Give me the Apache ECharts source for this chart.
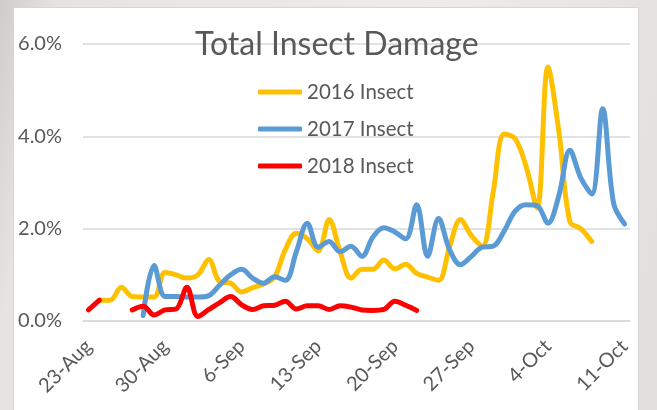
<!DOCTYPE html>
<html>
<head>
<meta charset="utf-8">
<script src="https://cdn.jsdelivr.net/npm/echarts@6/dist/echarts.min.js"></script>
<style>
  html, body { margin: 0; padding: 0; }
  body { width: 657px; height: 410px; overflow: hidden;
         background: linear-gradient(100deg, #cfcdcb 0%, #e6e4e2 8%, #eeeceb 60%, #e2e0de 100%); position: relative; }
  #card { position: absolute; left: 13px; top: 7px; width: 626px; height: 410px; background: #fff;
          border: 1px solid #d6d6d6; box-sizing: border-box; }
  #echarts { position: absolute; left: 0; top: 0; width: 657px; height: 410px; }
</style>
</head>
<body>
<div id="card"></div>
<div id="echarts"></div>
<script>
// 日期 (23-Aug .. 11-Oct)
var dates = ['23-Aug','24-Aug','25-Aug','26-Aug','27-Aug','28-Aug','29-Aug',
  '30-Aug','31-Aug','1-Sep','2-Sep','3-Sep','4-Sep','5-Sep',
  '6-Sep','7-Sep','8-Sep','9-Sep','10-Sep','11-Sep','12-Sep',
  '13-Sep','14-Sep','15-Sep','16-Sep','17-Sep','18-Sep','19-Sep',
  '20-Sep','21-Sep','22-Sep','23-Sep','24-Sep','25-Sep','26-Sep',
  '27-Sep','28-Sep','29-Sep','30-Sep','1-Oct','2-Oct','3-Oct',
  '4-Oct','5-Oct','6-Oct','7-Oct','8-Oct','9-Oct','10-Oct','11-Oct'];

// percent values, null = no data
var insect2016 = [null,0.45,0.45,0.73,0.53,0.52,0.52,
  1.05,1.0,0.93,1.0,1.33,0.85,0.82,
  0.63,0.72,0.8,0.95,1.55,1.9,1.78,
  1.52,2.2,1.5,0.93,1.12,1.12,1.32,
  1.13,1.23,1.03,0.95,0.88,1.6,2.2,
  1.85,1.62,2.8,4.05,3.95,3.35,2.45,
  5.5,4.1,2.15,2.0,1.72,null,null,null];

var insect2017 = [null,null,null,null,null,0.12,1.2,
  0.53,0.53,0.52,0.52,0.55,0.78,1.0,
  1.12,0.93,0.82,0.96,0.88,1.5,2.12,
  1.6,1.72,1.5,1.62,1.4,1.82,2.02,
  1.93,1.78,2.52,1.4,2.22,1.55,1.22,
  1.4,1.6,1.62,1.95,2.38,2.52,2.5,
  2.12,2.72,3.7,3.1,2.75,4.6,2.55,2.1];

var insect2018 = [0.24,0.45,null,null,0.24,0.32,0.13,
  0.24,0.26,0.73,0.1,0.25,0.4,0.53,
  0.35,0.25,0.33,0.34,0.43,0.26,0.33,
  0.33,0.25,0.33,0.3,0.24,0.23,0.25,
  0.43,0.34,0.23,null,null,null,null,
  null,null,null,null,null,null,null,
  null,null,null,null,null,null,null,null];

var yTicks = [0, 2, 6]; // min, interval, max

var txt = '#595959';
var font = 'Lato';

var chart = echarts.init(document.getElementById('echarts'));

function line(name, data, color) {
  return {
    name: name,
    type: 'line',
    data: data,
    smooth: 0.35,
    showSymbol: false,
    connectNulls: false,
    lineStyle: { color: color, width: 5, cap: 'round', join: 'round' },
    itemStyle: { color: color }
  };
}

chart.setOption({
  animation: false,
  textStyle: { fontFamily: font },
  title: {
    text: 'Total Insect Damage',
    left: 190,
    top: 24,
    textStyle: { fontFamily: font, fontWeight: 'normal', fontSize: 32, color: txt }
  },
  legend: {
    orient: 'vertical',
    left: 253,
    top: 76,
    itemWidth: 44,
    itemHeight: 5,
    itemGap: 15,
    icon: 'roundRect',
    textStyle: { fontFamily: font, fontSize: 20.5, color: txt, lineHeight: 22 },
    data: ['2016 Insect', '2017 Insect', '2018 Insect']
  },
  grid: { left: 83, right: 27, top: 44, bottom: 89 },
  xAxis: {
    type: 'category',
    data: dates,
    boundaryGap: true,
    axisLine: { lineStyle: { color: '#d9d9d9', width: 1.5 } },
    axisTick: { show: false },
    axisLabel: {
      interval: 6,
      rotate: 45,
      margin: 22,
      fontFamily: font,
      fontSize: 20,
      color: txt
    }
  },
  yAxis: {
    type: 'value',
    min: yTicks[0],
    max: yTicks[2],
    interval: yTicks[1],
    axisLine: { show: false },
    axisTick: { show: false },
    splitLine: { lineStyle: { color: '#d9d9d9', width: 1.5 } },
    axisLabel: {
      margin: 21,
      fontFamily: font,
      fontSize: 20,
      color: txt,
      formatter: function (v) { return v.toFixed(1) + '%'; }
    }
  },
  series: [
    line('2016 Insect', insect2016, '#FFC000'),
    line('2017 Insect', insect2017, '#5B9BD5'),
    line('2018 Insect', insect2018, '#FF0000')
  ]
});
</script>
</body>
</html>
